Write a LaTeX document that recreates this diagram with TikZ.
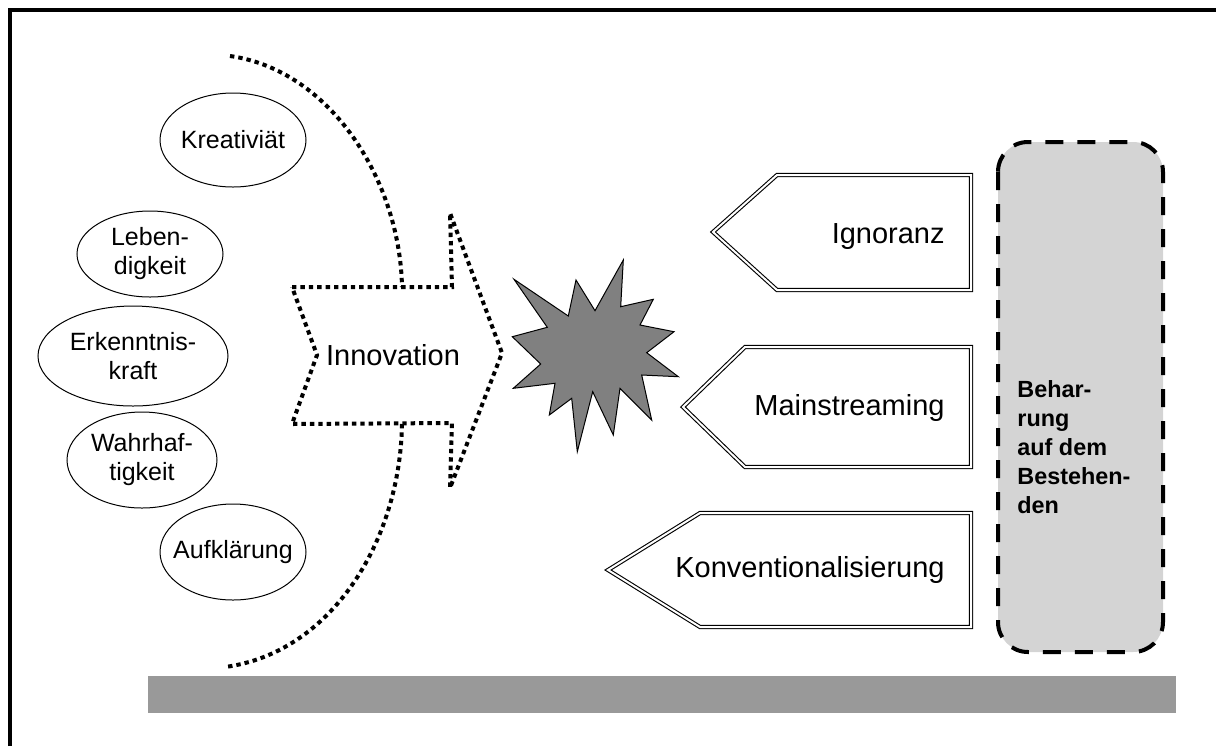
\documentclass[tikz,border=0pt]{standalone}
\usepackage{fontspec}
\setmainfont{Liberation Sans}
\begin{document}
\begin{tikzpicture}[x=0.5pt,y=-0.5pt,
  dotline/.style={line width=2pt, dash pattern=on 2.2pt off 2pt},
  ovaltext/.style={align=center, inner sep=0pt, font=\fontsize{12.5}{14.5}\selectfont},
  ovalline/.style={draw=black, line width=0.5pt},
  bigtext/.style={inner sep=0pt, font=\fontsize{14.5}{17}\selectfont},
  pentagon/.style={draw=black, double=white, line width=0.55pt, double distance=1pt},
  starshape/.style={fill=black!50, draw=black, line width=0.5pt}]
\useasboundingbox (0,0) rectangle (1216,746);
% frame
\draw[line width=2pt] (10,746) -- (10,10) -- (1216,10);
% grey bar
\fill[black!40] (148,676) rectangle (1176,713);
% ellipses
\node[ovaltext] (kre) at (233,140) {Kreativiät};
\draw[ovalline] (kre.center) ellipse [x radius=73, y radius=47];
\node[ovaltext] (leb) at (150,254) {Leben-\\digkeit};
\draw[ovalline] (leb.center) ellipse [x radius=73, y radius=43];
\node[ovaltext] (erk) at (133,356) {Erkenntnis-\\kraft};
\draw[ovalline] (erk.center) ellipse [x radius=95, y radius=50];
\node[ovaltext] (wah) at (142,460) {Wahrhaf-\\tigkeit};
\draw[ovalline] (wah.center) ellipse [x radius=75, y radius=48];
\node[ovaltext] (auf) at (233,552) {Aufklärung};
\draw[ovalline] (auf.center) ellipse [x radius=73, y radius=48];
% dotted arcs
\coordinate (arcA1) at (230,56);
\coordinate (arcA2) at (402,287);
\coordinate (arcB1) at (402,424);
\coordinate (arcB2) at (225,667);
\draw[dotline] (arcA1) .. controls (330,70) and (400,180) .. (arcA2);
\draw[dotline] (arcB1) .. controls (400,543) and (330,653) .. (arcB2);
% innovation arrow
\draw[dotline] (292,287) -- (452,287) -- (450,213) -- (502,353) -- (450,488) -- (452,423) -- (292,424) -- (317,355) -- cycle;
\node[bigtext] (inn) at (393,355) {Innovation};
% star
\draw[starshape] (514,279.3) -- (568.3,316) -- (576,280) -- (595,310.7) -- (623.3,260) -- (620.7,306.7)
  -- (653.3,299.3) -- (640,325) -- (674,331.7) -- (646.7,352.7) -- (678.3,376.7) -- (641.7,375)
  -- (651.7,420) -- (620,388.3) -- (613.3,435) -- (592.7,391.7) -- (577.3,451.7) -- (571.7,398.3)
  -- (549.3,415) -- (555,383.3) -- (513.3,388.3) -- (540.7,364) -- (512.3,336.7) -- (547.3,327.3) -- cycle;
% pentagons
\draw[pentagon] (971,175) -- (777,175) -- (713,232) -- (777,290) -- (971,290) -- cycle;
\node[bigtext, anchor=east] (ign) at (945,237) {Ignoranz};
\draw[pentagon] (971,347) -- (745,347) -- (683,407) -- (745,467) -- (971,467) -- cycle;
\node[bigtext, anchor=east] (mai) at (945,408) {Mainstreaming};
\draw[pentagon] (971,513) -- (700,513) -- (608,570) -- (700,627) -- (971,627) -- cycle;
\node[bigtext, anchor=east] (kon) at (945,570) {Konventionalisierung};
% rounded dashed box
\draw[line width=2pt, dash pattern=on 9pt off 7pt, fill=black!17, rounded corners=15pt] (998,142) rectangle (1163,652);
\node[anchor=north west, align=left, inner sep=0pt, font=\bfseries\fontsize{11.7}{14.5}\selectfont] (beh) at (1017,380) {Behar-\\rung\\auf dem\\Bestehen-\\den};
\end{tikzpicture}
\end{document}
